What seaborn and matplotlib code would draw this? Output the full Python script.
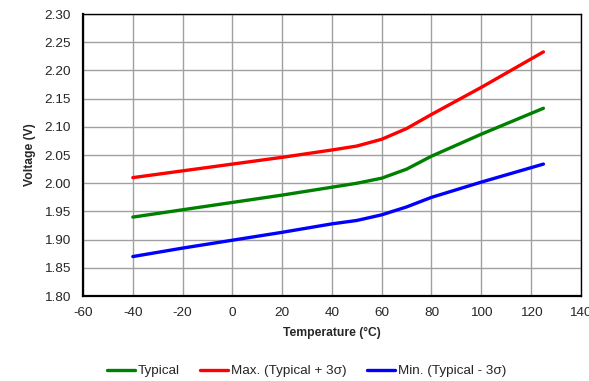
import numpy as np
import pandas as pd
import matplotlib
matplotlib.use('Agg')
import matplotlib.pyplot as plt
import seaborn as sns
from matplotlib.lines import Line2D

# Values
temps = [-40, -20, 0, 20, 40, 50, 60, 70, 80, 100, 125]
typical = [1.940, 1.953, 1.966, 1.979, 1.993, 2.000, 2.009, 2.025, 2.048, 2.087, 2.133]
v_max = [2.010, 2.022, 2.034, 2.046, 2.059, 2.066, 2.078, 2.097, 2.122, 2.170, 2.233]
v_min = [1.870, 1.885, 1.899, 1.913, 1.928, 1.934, 1.944, 1.958, 1.975, 2.002, 2.034]
series_names = ['Typical', 'Max. (Typical + 3\u03c3)', 'Min. (Typical - 3\u03c3)']
x_ticks = list(range(-60, 141, 20))
y_ticks = [1.80, 1.85, 1.90, 1.95, 2.00, 2.05, 2.10, 2.15, 2.20, 2.25, 2.30]

df = pd.DataFrame({
    'Temperature': temps * 3,
    'Voltage': typical + v_max + v_min,
    'Series': [series_names[0]] * len(temps) + [series_names[1]] * len(temps) + [series_names[2]] * len(temps),
})

sns.set_style('white')
plt.rcParams['font.family'] = ['Liberation Sans', 'DejaVu Sans']
plt.rcParams['axes.unicode_minus'] = False

fig = plt.figure(figsize=(5.89, 3.81), dpi=100)
ax = fig.add_axes([0.141, 0.223, 0.845, 0.740])

palette = {series_names[0]: '#008000', series_names[1]: '#ff0000', series_names[2]: '#0000ff'}
sns.lineplot(data=df, x='Temperature', y='Voltage', hue='Series', palette=palette,
             linewidth=2.4, ax=ax, legend=False, zorder=3)

ax.set_xlim(-60, 140)
ax.set_ylim(1.80, 2.30)
ax.set_xticks(x_ticks)
ax.set_yticks(y_ticks)
ax.set_yticklabels([f'{v:.2f}' for v in y_ticks])
ax.tick_params(axis='both', labelsize=9.7, length=0)
ax.tick_params(axis='x', pad=8)
ax.tick_params(axis='y', pad=9)
ax.grid(True, color='#a0a0a0', linewidth=1.0)
for s in ax.spines.values():
    s.set_color('black')
    s.set_linewidth(1.0)
ax.spines['left'].set_linewidth(1.6)
ax.spines['bottom'].set_linewidth(1.6)

ax.set_xlabel('Temperature (\u00b0C)', fontsize=8.7, fontweight='bold', labelpad=6)
ax.set_ylabel('Voltage (V)', fontsize=8.7, fontweight='bold', labelpad=6)

handles = [Line2D([], [], color=palette[n], linewidth=2.4) for n in series_names]
fig.legend(handles, series_names, loc='center', bbox_to_anchor=(0.52, 1 - 371 / 381), ncol=3,
           frameon=False, fontsize=9.7, handlelength=2.1, handletextpad=0.2, columnspacing=1.5)

fig.savefig('out.png', dpi=100)
